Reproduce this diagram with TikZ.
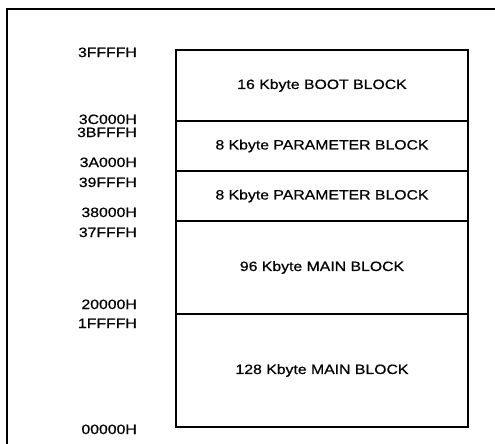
\documentclass[tikz,border=0pt]{standalone}
\usepackage{fontspec}
\setmainfont{Liberation Sans}[FakeStretch=1.17,FakeBold=0.6]
\begin{document}
\begin{tikzpicture}[x=1pt,y=-1pt,
  blk/.style={draw,line width=1.2pt,minimum width=292pt,inner sep=0pt,
    font=\fontsize{13.5}{16}\selectfont},
  addr/.style={anchor=base east,inner sep=0pt,font=\fontsize{13.5}{16}\selectfont}]
\useasboundingbox (0,0) rectangle (495,444);
% partial outer frame
\coordinate (ftl) at (7,9);
\coordinate (ftr) at (495,9);
\coordinate (fbl) at (7,444);
\draw[line width=1.1pt] (ftr) -- (ftl) -- (fbl);
% memory blocks
\node[blk,minimum height=71pt]  (boot) at (322,85.5)  {16 Kbyte BOOT BLOCK};
\node[blk,minimum height=50pt]  (p1)   at (322,146)   {8 Kbyte PARAMETER BLOCK};
\node[blk,minimum height=50pt]  (p2)   at (322,196)   {8 Kbyte PARAMETER BLOCK};
\node[blk,minimum height=93pt]  (m96)  at (322,267.5) {96 Kbyte MAIN BLOCK};
\node[blk,minimum height=113pt] (m128) at (322,370.5) {128 Kbyte MAIN BLOCK};
% addresses
\node[addr] (a1) at (137,57)  {3FFFFH};
\node[addr] (a2) at (137,124) {3C000H};
\node[addr] (a3) at (137,137) {3BFFFH};
\node[addr] (a4) at (137,167) {3A000H};
\node[addr] (a5) at (137,187) {39FFFH};
\node[addr] (a6) at (137,217) {38000H};
\node[addr] (a7) at (137,237) {37FFFH};
\node[addr] (a8) at (137,309) {20000H};
\node[addr] (a9) at (137,328) {1FFFFH};
\node[addr] (a10) at (137,434) {00000H};
\end{tikzpicture}
\end{document}
